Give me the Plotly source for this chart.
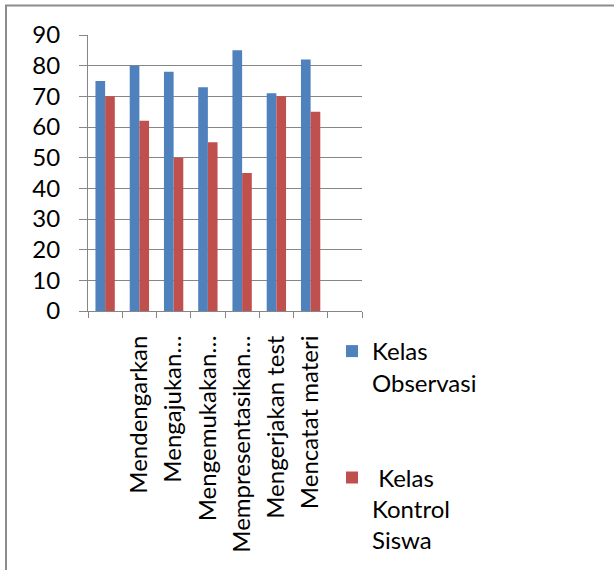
import plotly.graph_objects as go

categories = ["", "Mendengarkan", "Mengajukan…", "Mengemukakan…",
              "Mempresentasikan…", "Mengerjakan test", "Mencatat materi", ""]
observasi = [75, 80, 78, 73, 85, 71, 82, None]
kontrol = [70, 62, 50, 55, 45, 70, 65, None]
series_names = ["Kelas<br>Observasi", "\u00a0Kelas<br>Kontrol<br>Siswa"]
y_ticks = [0, 10, 20, 30, 40, 50, 60, 70, 80, 90]

FONT = "Lato"
GRID = "#868686"

W, H = 614, 570
L, R, T, B = 88, 362, 35, 311

def px(x):
    return (x - L) / (R - L)

def py(y):
    return (B - y) / (B - T)

x_pos = list(range(len(categories)))
label_pos = [i for i, c in enumerate(categories) if c]
label_txt = [c for c in categories if c]

fig = go.Figure()
fig.add_bar(x=x_pos, y=observasi, name=series_names[0],
            marker=dict(color="#4F81BD", line=dict(width=0)), legendgroup="a")
fig.add_bar(x=x_pos, y=kontrol, name=series_names[1],
            marker=dict(color="#C0504D", line=dict(width=0)), legendgroup="b")

fig.update_layout(
    width=W, height=H,
    margin=dict(l=L, r=W - R, t=T, b=H - B, autoexpand=False),
    paper_bgcolor="white", plot_bgcolor="white",
    barmode="group", bargap=0.435, bargroupgap=0,
    font=dict(family=FONT, color="black"),
    showlegend=True,
    legend=dict(x=px(332), y=py(329), xanchor="left", yanchor="top",
                font=dict(family=FONT, size=24, color="black"),
                valign="top", tracegroupgap=61, traceorder="grouped",
                itemwidth=30, bgcolor="rgba(0,0,0,0)"),
)
fig.update_xaxes(
    type="linear", range=[-0.5, len(categories) - 0.5],
    tickvals=label_pos, ticktext=label_txt,
    showgrid=False, showline=True, linecolor=GRID, linewidth=1, zeroline=False,
    ticks="", tickangle=-90, tickfont=dict(family=FONT, size=24, color="black"),
    ticklabelstandoff=14,
    minor=dict(ticks="outside", tick0=-0.5, dtick=1, ticklen=6,
               tickcolor=GRID, showgrid=False),
)
fig.update_yaxes(
    range=[0, 90], tickvals=y_ticks, showgrid=True, gridcolor=GRID, gridwidth=1,
    showline=True, linecolor=GRID, linewidth=1, zeroline=False,
    ticks="outside", ticklen=8, tickcolor=GRID,
    tickfont=dict(family=FONT, size=24, color="black"),
    ticklabelstandoff=14,
)
# chart frame (top and left edges visible)
fig.add_shape(type="line", xref="paper", yref="paper",
              x0=px(5), x1=px(614), y0=py(5.5), y1=py(5.5),
              line=dict(color="#8c8c8c", width=2))
fig.add_shape(type="line", xref="paper", yref="paper",
              x0=px(6), x1=px(6), y0=py(5), y1=py(570),
              line=dict(color="#8c8c8c", width=2))

fig.write_html("out.html")
